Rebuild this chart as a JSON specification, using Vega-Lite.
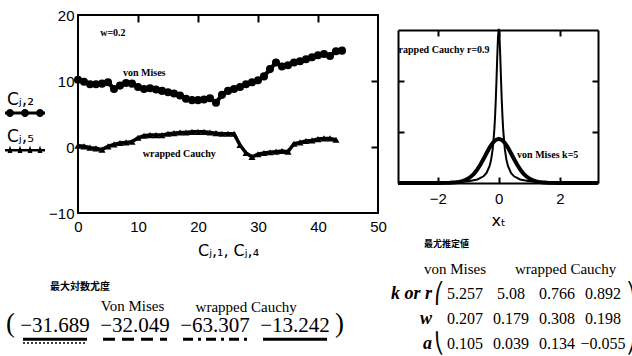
{
  "$schema": "https://vega.github.io/schema/vega-lite/v6.json",
  "background": "white",
  "padding": {"left": 5, "top": 7, "right": 0, "bottom": 0},
  "bounds": "flush",
  "columns": 2,
  "spacing": {"row": 50, "column": 20},
  "config": {
    "font": "Liberation Serif",
    "view": {"stroke": "black", "strokeWidth": 2},
    "axis": {"domain": false, "grid": false, "labelColor": "black", "tickColor": "black", "titleColor": "black", "domainColor": "black", "tickWidth": 2}
  },
  "datasets": {
    "vm": [
      {"x":0,"y":10.2},{"x":1,"y":9.9},{"x":2,"y":9.5},{"x":3,"y":9.5},{"x":4,"y":9.6},{"x":5,"y":9.8},{"x":6,"y":8.8},{"x":7,"y":9.3},{"x":8,"y":9.7},{"x":9,"y":9.6},
      {"x":10,"y":9.1},{"x":11,"y":8.8},{"x":12,"y":8.9},{"x":13,"y":8.7},{"x":14,"y":8.5},{"x":15,"y":8.3},{"x":16,"y":8.1},{"x":17,"y":7.8},{"x":18,"y":7.3},{"x":19,"y":7.1},
      {"x":20,"y":7.1},{"x":21,"y":7.2},{"x":22,"y":7.4},{"x":23,"y":6.7},{"x":24,"y":7.9},{"x":25,"y":8.5},{"x":26,"y":8.8},{"x":27,"y":9.1},{"x":28,"y":9.5},{"x":29,"y":9.8},
      {"x":30,"y":10.1},{"x":31,"y":10.7},{"x":32,"y":11.8},{"x":33,"y":12.8},{"x":34,"y":12.2},{"x":35,"y":12.4},{"x":36,"y":12.8},{"x":37,"y":13.0},{"x":38,"y":13.3},{"x":39,"y":13.6},
      {"x":40,"y":13.9},{"x":41,"y":14.1},{"x":42,"y":13.8},{"x":43,"y":14.5},{"x":44,"y":14.6}
    ],
    "wc": [
      {"x":0,"y":0.2},{"x":1,"y":0.1},{"x":2,"y":-0.1},{"x":3,"y":-0.2},{"x":4,"y":-0.4},{"x":5,"y":0.1},{"x":6,"y":0.4},{"x":7,"y":0.6},{"x":8,"y":0.7},{"x":9,"y":0.8},
      {"x":10,"y":1.4},{"x":11,"y":1.7},{"x":12,"y":1.8},{"x":13,"y":1.8},{"x":14,"y":1.8},{"x":15,"y":2.0},{"x":16,"y":2.1},{"x":17,"y":2.2},{"x":18,"y":2.2},{"x":19,"y":2.3},
      {"x":20,"y":2.3},{"x":21,"y":2.3},{"x":22,"y":2.2},{"x":23,"y":2.1},{"x":24,"y":2.0},{"x":25,"y":2.0},{"x":26,"y":2.0},{"x":27,"y":0.3},{"x":28,"y":-0.9},{"x":29,"y":-1.5},
      {"x":30,"y":-1.1},{"x":31,"y":-0.9},{"x":32,"y":-0.8},{"x":33,"y":-0.7},{"x":34,"y":-0.6},{"x":35,"y":-0.7},{"x":36,"y":0.5},{"x":37,"y":0.7},{"x":38,"y":0.9},{"x":39,"y":1.0},
      {"x":40,"y":1.2},{"x":41,"y":1.3},{"x":42,"y":1.3},{"x":43,"y":1.1}
    ],
    "lnotes": [
      {"x":3.7,"y":17.3,"t":"w=0.2"},
      {"x":7.5,"y":11.2,"t":"von Mises"},
      {"x":10.8,"y":-1.0,"t":"wrapped Cauchy"}
    ],
    "lg": [{"s":"a"},{"s":"b"}],
    "rvm": [
      {"x":-3.3,"y":0},{"x":-2.5,"y":0.0001},{"x":-2.0,"y":0.0007},{"x":-1.6,"y":0.005},{"x":-1.4,"y":0.0137},{"x":-1.3,"y":0.0223},{"x":-1.2,"y":0.0358},{"x":-1.1,"y":0.0564},{"x":-1.0,"y":0.0871},
      {"x":-0.9,"y":0.1307},{"x":-0.8,"y":0.190},{"x":-0.7,"y":0.2676},{"x":-0.6,"y":0.362},{"x":-0.5,"y":0.4701},{"x":-0.4,"y":0.584},{"x":-0.3,"y":0.6935},{"x":-0.2,"y":0.785},{"x":-0.1,"y":0.8456},
      {"x":0,"y":0.867},
      {"x":0.1,"y":0.8456},{"x":0.2,"y":0.785},{"x":0.3,"y":0.6935},{"x":0.4,"y":0.584},{"x":0.5,"y":0.4701},{"x":0.6,"y":0.362},{"x":0.7,"y":0.2676},{"x":0.8,"y":0.190},{"x":0.9,"y":0.1307},
      {"x":1.0,"y":0.0871},{"x":1.1,"y":0.0564},{"x":1.2,"y":0.0358},{"x":1.3,"y":0.0223},{"x":1.4,"y":0.0137},{"x":1.6,"y":0.005},{"x":2.0,"y":0.0007},{"x":2.5,"y":0.0001},{"x":3.25,"y":0}
    ],
    "rwc": [
      {"x":-3.3,"y":0.0084},{"x":-3,"y":0.0084},{"x":-2,"y":0.0118},{"x":-1.5,"y":0.018},{"x":-1.0,"y":0.0361},{"x":-0.7,"y":0.0698},{"x":-0.5,"y":0.131},{"x":-0.4,"y":0.1988},{"x":-0.3,"y":0.3345},
      {"x":-0.25,"y":0.4585},{"x":-0.2,"y":0.659},{"x":-0.15,"y":1.001},{"x":-0.125,"y":1.258},{"x":-0.1,"y":1.592},{"x":-0.075,"y":2.008},{"x":-0.05,"y":2.469},{"x":-0.025,"y":2.863},
      {"x":0,"y":3.024},
      {"x":0.025,"y":2.863},{"x":0.05,"y":2.469},{"x":0.075,"y":2.008},{"x":0.1,"y":1.592},{"x":0.125,"y":1.258},{"x":0.15,"y":1.001},{"x":0.2,"y":0.659},{"x":0.25,"y":0.4585},
      {"x":0.3,"y":0.3345},{"x":0.4,"y":0.1988},{"x":0.5,"y":0.131},{"x":0.7,"y":0.0698},{"x":1.0,"y":0.0361},{"x":1.5,"y":0.018},{"x":2,"y":0.0118},{"x":3,"y":0.0084},{"x":3.25,"y":0.0084}
    ],
    "rnoteL": [{"x":-0.3,"y":2.6,"t":"wrapped Cauchy r=0.9"}],
    "rnoteR": [{"x":0.6,"y":0.55,"t":"von Mises k=5"}],
    "ltCjk": [{"col":"c1","row":"cjk","t":"最大対数尤度"}],
    "ltHdr1": [{"col":"c2","row":"hdr","t":"Von Mises"}],
    "ltHdr2": [{"col":"c3","row":"hdr","t":"wrapped Cauchy"}],
    "ltVal": [
      {"col":"c1","row":"val","t":"−31.689","st":"s1"},
      {"col":"c2","row":"val","t":"−32.049","st":"s2"},
      {"col":"c3","row":"val","t":"−63.307","st":"s3"},
      {"col":"c4","row":"val","t":"−13.242","st":"s4"}
    ],
    "ltDot": [{"col":"c1"}],
    "ltL": [{"col":"c1","row":"val","t":"("}],
    "ltR": [{"col":"c4","row":"val","t":")"}],
    "rtCjk": [{"col":"c1","row":"cjk","t":"最尤推定値"}],
    "rtHdr1": [{"col":"c1","row":"hdr","t":"von Mises"}],
    "rtHdr2": [{"col":"c3","row":"hdr","t":"wrapped Cauchy"}],
    "rtLbl": [{"col":"c1","row":"r1","t":"k or r"},{"col":"c1","row":"r2","t":"w"},{"col":"c1","row":"r3","t":"a"}],
    "rtVal": [
      {"col":"c1","row":"r1","t":"5.257"},{"col":"c2","row":"r1","t":"5.08"},{"col":"c3","row":"r1","t":"0.766"},{"col":"c4","row":"r1","t":"0.892"},
      {"col":"c1","row":"r2","t":"0.207"},{"col":"c2","row":"r2","t":"0.179"},{"col":"c3","row":"r2","t":"0.308"},{"col":"c4","row":"r2","t":"0.198"},
      {"col":"c1","row":"r3","t":"0.105"},{"col":"c2","row":"r3","t":"0.039"},{"col":"c3","row":"r3","t":"0.134"},{"col":"c4","row":"r3","t":"−0.055"}
    ],
    "rtBL": [{"col":"c1","row":"r1","t":"⎛"},{"col":"c1","row":"r3","t":"⎝"}],
    "rtBR": [{"col":"c4","row":"r1","t":"⎞"},{"col":"c4","row":"r3","t":"⎠"}]
  },
  "concat": [
    {
      "width": 300,
      "height": 198,
      "layer": [
        {
          "data": {"name": "vm"},
          "mark": {"type": "line", "color": "black", "strokeWidth": 4},
          "encoding": {
            "x": {"field": "x", "type": "quantitative", "scale": {"domain": [0, 50], "nice": false, "zero": false},
              "axis": {"orient": "bottom", "values": [0, 10, 20, 30, 40, 50], "ticks": false, "labelPadding": 6, "labelFont": "Liberation Sans", "labelFontSize": 15, "labelFlush": false,
                "title": "Cⱼ,₁, Cⱼ,₄", "titleFont": "DejaVu Sans", "titleFontSize": 16, "titleFontWeight": "normal", "titlePadding": 8}},
            "y": {"field": "y", "type": "quantitative", "scale": {"domain": [-10, 20], "nice": false, "zero": false},
              "axis": {"orient": "left", "values": [-10, 0, 10, 20], "ticks": false, "labelPadding": 4, "labelFont": "Liberation Sans", "labelFontSize": 15, "labelFlush": false, "title": null}}
          }
        },
        {
          "data": {"name": "vm"},
          "mark": {"type": "point", "shape": "circle", "filled": true, "color": "black", "size": 65, "opacity": 1},
          "encoding": {"x": {"field": "x", "type": "quantitative", "axis": null}, "y": {"field": "y", "type": "quantitative", "axis": null}}
        },
        {
          "data": {"name": "wc"},
          "mark": {"type": "line", "color": "black", "strokeWidth": 3.5},
          "encoding": {"x": {"field": "x", "type": "quantitative", "axis": null}, "y": {"field": "y", "type": "quantitative", "axis": null}}
        },
        {
          "data": {"name": "wc"},
          "mark": {"type": "point", "shape": "triangle-up", "filled": true, "color": "black", "size": 50, "opacity": 1},
          "encoding": {"x": {"field": "x", "type": "quantitative", "axis": null}, "y": {"field": "y", "type": "quantitative", "axis": null}}
        },
        {
          "data": {"name": "lnotes"},
          "mark": {"type": "text", "font": "Liberation Serif", "fontWeight": "bold", "fontSize": 10, "align": "left", "baseline": "middle", "color": "black"},
          "encoding": {"x": {"field": "x", "type": "quantitative", "axis": null}, "y": {"field": "y", "type": "quantitative", "axis": null}, "text": {"field": "t"}}
        },
        {
          "data": {"name": "vm"},
          "mark": {"type": "point", "opacity": 0},
          "encoding": {
            "x": {"field": "x", "type": "quantitative", "axis": {"orient": "top", "values": [10, 20, 30, 40], "labels": false, "tickSize": -7, "title": null}},
            "y": {"field": "y", "type": "quantitative", "axis": {"orient": "right", "values": [0, 10], "labels": false, "tickSize": -7, "title": null}}
          }
        },
        {
          "data": {"name": "lg"},
          "mark": {"type": "point", "opacity": 1, "size": 0, "filled": true, "color": "black"},
          "encoding": {
            "shape": {"field": "s", "type": "nominal",
              "scale": {"domain": ["a", "b"], "range": [
                "M-1,0.58H1V0.72H-1Z M-0.95,0.65a0.2,0.2 0 1,1 0.4,0a0.2,0.2 0 1,1 -0.4,0Z M-0.2,0.65a0.2,0.2 0 1,1 0.4,0a0.2,0.2 0 1,1 -0.4,0Z M0.55,0.65a0.2,0.2 0 1,1 0.4,0a0.2,0.2 0 1,1 -0.4,0Z",
                "M-1,0.6H1V0.72H-1Z M-0.87,0.8L-0.75,0.42L-0.63,0.8Z M-0.37,0.8L-0.25,0.42L-0.13,0.8Z M0.13,0.8L0.25,0.42L0.37,0.8Z M0.63,0.8L0.75,0.42L0.87,0.8Z"
              ]},
              "legend": {
                "orient": "none", "legendX": -73, "legendY": 65, "title": null, "padding": 0,
                "symbolSize": 1600, "symbolStrokeWidth": 0, "symbolOpacity": 1, "symbolFillColor": "black",
                "labelFont": "DejaVu Sans", "labelFontSize": 17, "labelColor": "black", "rowPadding": -9, "labelOffset": -38,
                "labelExpr": "datum.value == 'a' ? 'Cⱼ,₂' : 'Cⱼ,₅'"
              }
            }
          }
        }
      ],
      "resolve": {"axis": {"x": "independent", "y": "independent"}}
    },
    {
      "width": 200,
      "height": 198,
      "view": {"stroke": null},
      "layer": [
        {
          "data": {"name": "rvm"},
          "mark": {"type": "line", "color": "black", "strokeWidth": 4, "clip": true},
          "encoding": {
            "x": {"field": "x", "type": "quantitative", "scale": {"domain": [-3.3, 3.25], "nice": false, "zero": false},
              "axis": {"orient": "bottom", "offset": -30, "domain": true, "domainWidth": 2, "values": [-2, 0, 2], "tickSize": -6, "labelPadding": 14, "labelFont": "Liberation Sans", "labelFontSize": 15, "labelFlush": false,
                "title": "xₜ", "titleFont": "DejaVu Sans", "titleFontSize": 16, "titleFontWeight": "normal", "titlePadding": 6}},
            "y": {"field": "y", "type": "quantitative", "scale": {"domain": [0, 3], "range": [168, 15], "nice": false, "zero": false},
              "axis": {"orient": "left", "domain": true, "domainWidth": 2, "values": [1, 2], "tickSize": -6, "labels": false, "title": null}}
          }
        },
        {
          "data": {"name": "rwc"},
          "mark": {"type": "line", "color": "black", "strokeWidth": 2, "clip": true},
          "encoding": {"x": {"field": "x", "type": "quantitative", "axis": null}, "y": {"field": "y", "type": "quantitative", "axis": null}}
        },
        {
          "data": {"name": "rnoteL"},
          "mark": {"type": "text", "font": "Liberation Serif", "fontWeight": "bold", "fontSize": 10, "align": "right", "baseline": "middle", "color": "black", "clip": true},
          "encoding": {"x": {"field": "x", "type": "quantitative", "axis": null}, "y": {"field": "y", "type": "quantitative", "axis": null}, "text": {"field": "t"}}
        },
        {
          "data": {"name": "rnoteR"},
          "mark": {"type": "text", "font": "Liberation Serif", "fontWeight": "bold", "fontSize": 10, "align": "left", "baseline": "middle", "color": "black", "clip": true},
          "encoding": {"x": {"field": "x", "type": "quantitative", "axis": null}, "y": {"field": "y", "type": "quantitative", "axis": null}, "text": {"field": "t"}}
        },
        {
          "data": {"name": "rvm"},
          "mark": {"type": "point", "opacity": 0},
          "encoding": {
            "x": {"field": "x", "type": "quantitative", "axis": {"orient": "top", "offset": -15, "domain": true, "domainWidth": 2, "values": [-2, 0, 2], "labels": false, "tickSize": -6, "title": null}},
            "y": {"field": "y", "type": "quantitative", "axis": {"orient": "right", "domain": true, "domainWidth": 2, "values": [1, 2], "labels": false, "tickSize": -6, "title": null}}
          }
        }
      ],
      "resolve": {"axis": {"x": "independent", "y": "independent"}}
    },
    {
      "width": 300,
      "height": 93,
      "view": {"stroke": null},
      "encoding": {
        "x": {"field": "col", "type": "ordinal", "scale": {"type": "band", "domain": ["c1", "c2", "c3", "c4"], "range": [-63, 257], "paddingInner": 0, "paddingOuter": 0}, "axis": null},
        "y": {"field": "row", "type": "ordinal", "scale": {"type": "band", "domain": ["cjk", "hdr", "val", "ul"], "range": [14.5, 90.5], "paddingInner": 0, "paddingOuter": 0}, "axis": null}
      },
      "layer": [
        {
          "data": {"name": "ltCjk"},
          "mark": {"type": "text", "font": "Noto Sans CJK JP", "fontWeight": "bold", "fontSize": 10, "align": "left", "baseline": "middle", "color": "black", "dx": 35},
          "encoding": {"x": {"field": "col", "type": "ordinal", "bandPosition": 0}, "text": {"field": "t"}}
        },
        {
          "data": {"name": "ltHdr1"},
          "mark": {"type": "text", "font": "Liberation Serif", "fontSize": 15, "align": "center", "baseline": "middle", "color": "black"},
          "encoding": {"x": {"field": "col", "type": "ordinal", "bandPosition": 0.47}, "text": {"field": "t"}}
        },
        {
          "data": {"name": "ltHdr2"},
          "mark": {"type": "text", "font": "Liberation Serif", "fontSize": 15, "align": "center", "baseline": "middle", "color": "black", "dy": 1},
          "encoding": {"x": {"field": "col", "type": "ordinal", "bandPosition": 0.89}, "text": {"field": "t"}}
        },
        {
          "data": {"name": "ltVal"},
          "mark": {"type": "text", "font": "Liberation Serif", "fontSize": 21, "align": "center", "baseline": "middle", "color": "black", "dy": 1},
          "encoding": {"text": {"field": "t"}}
        },
        {
          "data": {"name": "ltVal"},
          "mark": {"type": "rule", "color": "black", "strokeWidth": 3},
          "encoding": {
            "x": {"field": "col", "type": "ordinal", "bandPosition": 0.1},
            "x2": {"field": "col", "bandPosition": 0.9},
            "y": {"datum": "ul", "type": "ordinal", "bandPosition": 0.25},
            "strokeDash": {"field": "st", "type": "nominal", "scale": {"domain": ["s1", "s2", "s3", "s4"], "range": [[1, 0], [12, 7], [10, 5, 3, 5], [1, 0]]}, "legend": null}
          }
        },
        {
          "data": {"name": "ltDot"},
          "mark": {"type": "rule", "color": "black", "strokeWidth": 1.5, "strokeDash": [2, 2]},
          "encoding": {
            "x": {"field": "col", "type": "ordinal", "bandPosition": 0.1},
            "x2": {"field": "col", "bandPosition": 0.9},
            "y": {"datum": "ul", "type": "ordinal", "bandPosition": 0.45}
          }
        },
        {
          "data": {"name": "ltL"},
          "mark": {"type": "text", "font": "Liberation Serif", "fontSize": 27, "align": "right", "baseline": "middle", "color": "black", "dy": -1},
          "encoding": {"x": {"field": "col", "type": "ordinal", "bandPosition": 0}, "text": {"field": "t"}}
        },
        {
          "data": {"name": "ltR"},
          "mark": {"type": "text", "font": "Liberation Serif", "fontSize": 27, "align": "left", "baseline": "middle", "color": "black", "dy": -1},
          "encoding": {"x": {"field": "col", "type": "ordinal", "bandPosition": 1}, "text": {"field": "t"}}
        }
      ]
    },
    {
      "width": 200,
      "height": 93,
      "view": {"stroke": null},
      "encoding": {
        "x": {"field": "col", "type": "ordinal", "scale": {"type": "band", "domain": ["c1", "c2", "c3", "c4"], "range": [44, 228], "paddingInner": 0, "paddingOuter": 0}, "axis": null},
        "y": {"field": "row", "type": "ordinal", "scale": {"type": "band", "domain": ["cjk", "hdr", "r1", "r2", "r3"], "range": [-32, 93], "paddingInner": 0, "paddingOuter": 0}, "axis": null}
      },
      "layer": [
        {
          "data": {"name": "rtCjk"},
          "mark": {"type": "text", "font": "Noto Sans CJK JP", "fontWeight": "bold", "fontSize": 9, "align": "left", "baseline": "middle", "color": "black", "dx": -18},
          "encoding": {"x": {"field": "col", "type": "ordinal", "bandPosition": 0}, "text": {"field": "t"}}
        },
        {
          "data": {"name": "rtHdr1"},
          "mark": {"type": "text", "font": "Liberation Serif", "fontSize": 15, "align": "left", "baseline": "middle", "color": "black", "dx": -18},
          "encoding": {"x": {"field": "col", "type": "ordinal", "bandPosition": 0}, "text": {"field": "t"}}
        },
        {
          "data": {"name": "rtHdr2"},
          "mark": {"type": "text", "font": "Liberation Serif", "fontSize": 15, "align": "left", "baseline": "middle", "color": "black", "dx": -19},
          "encoding": {"x": {"field": "col", "type": "ordinal", "bandPosition": 0}, "text": {"field": "t"}}
        },
        {
          "data": {"name": "rtLbl"},
          "mark": {"type": "text", "font": "Liberation Serif", "fontSize": 18, "fontStyle": "italic", "fontWeight": "bold", "align": "right", "baseline": "middle", "color": "black", "dx": -10},
          "encoding": {"x": {"field": "col", "type": "ordinal", "bandPosition": 0}, "text": {"field": "t"}}
        },
        {
          "data": {"name": "rtVal"},
          "mark": {"type": "text", "font": "Liberation Serif", "fontSize": 16, "align": "center", "baseline": "middle", "color": "black"},
          "encoding": {"text": {"field": "t"}}
        },
        {
          "data": {"name": "rtBL"},
          "mark": {"type": "text", "font": "DejaVu Sans", "fontSize": 20, "align": "center", "baseline": "middle", "color": "black", "dx": -3},
          "encoding": {"x": {"field": "col", "type": "ordinal", "bandPosition": 0}, "text": {"field": "t"}}
        },
        {
          "data": {"name": "rtBR"},
          "mark": {"type": "text", "font": "DejaVu Sans", "fontSize": 20, "align": "center", "baseline": "middle", "color": "black"},
          "encoding": {"x": {"field": "col", "type": "ordinal", "bandPosition": 1.12}, "text": {"field": "t"}}
        }
      ]
    }
  ]
}
